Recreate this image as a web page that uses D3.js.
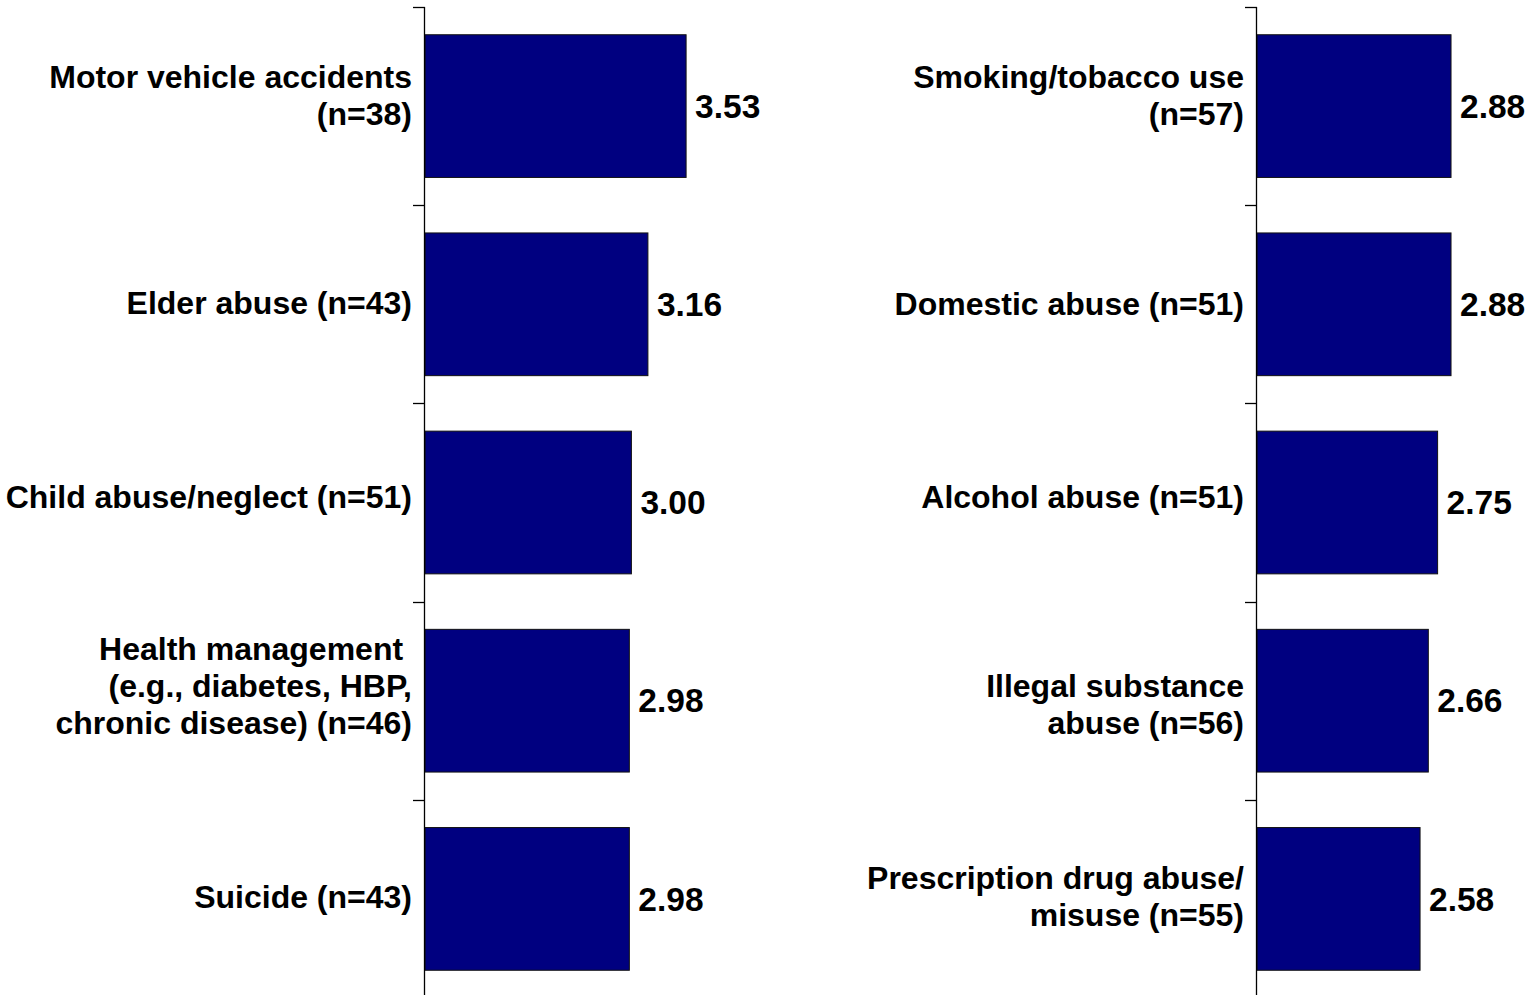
<!DOCTYPE html>
<html>
<head>
<meta charset="utf-8">
<script src="https://cdn.jsdelivr.net/npm/d3@7"></script>
<style>
  html, body { margin: 0; padding: 0; background: #fff; }
  svg { display: block; }
  text { font-family: "Liberation Sans", Arial, sans-serif; font-weight: bold; fill: #000; }
</style>
</head>
<body>
<svg id="chart" width="1537" height="995"></svg>
<script>
// ---- data ----
const leftCategories = [
  "Motor vehicle accidents\n(n=38)",
  "Elder abuse (n=43)",
  "Child abuse/neglect (n=51)",
  "Health management \n(e.g., diabetes, HBP,\nchronic disease) (n=46)",
  "Suicide (n=43)"
];
const leftValues = [3.53, 3.16, 3.00, 2.98, 2.98];

const rightCategories = [
  "Smoking/tobacco use\n(n=57)",
  "Domestic abuse (n=51)",
  "Alcohol abuse (n=51)",
  "Illegal substance\nabuse (n=56)",
  "Prescription drug abuse/\nmisuse (n=55)"
];
const rightValues = [2.88, 2.88, 2.75, 2.66, 2.58];

const xDomain = [1, 5];

// ---- layout ----
const W = 1537, H = 995;
const fontSize = 32;
const valueFontSize = 33.5;
const lineH = 37;
const panels = [
  { cats: leftCategories, vals: leftValues, axisX: 425, shifts: [-11, -2, -6, -15, -2] },
  { cats: rightCategories, vals: rightValues, axisX: 1257, shifts: [-11, -1, -6, 4, -3] }
];
const yTop = 7, yBottom = 998;
const pxPerUnit = 103.2;

const svg = d3.select("#chart");

panels.forEach(p => {
  const g = svg.append("g").attr("transform", `translate(${p.axisX},0)`);
  const y = d3.scaleBand()
    .domain(p.cats.map((c, i) => i))
    .range([yTop, yBottom])
    .paddingInner(0.28)
    .paddingOuter(0.14);
  const x = d3.scaleLinear().domain(xDomain).range([0, pxPerUnit * (xDomain[1] - xDomain[0])]);

  // bars
  g.selectAll("rect.bar")
    .data(p.vals)
    .join("rect")
    .attr("class", "bar")
    .attr("x", 0)
    .attr("y", (d, i) => y(i))
    .attr("width", d => x(d))
    .attr("height", y.bandwidth())
    .attr("fill", "#000080")
    .attr("stroke", "#111")
    .attr("stroke-width", 1);

  // axis line + ticks at band boundaries
  const step = y.step();
  const boundaries = d3.range(p.cats.length + 1).map(i => yTop + i * step);
  g.append("line")
    .attr("x1", -0.5).attr("x2", -0.5)
    .attr("y1", yTop).attr("y2", yBottom)
    .attr("stroke", "#000").attr("stroke-width", 1.3);
  g.selectAll("line.tick")
    .data(boundaries)
    .join("line")
    .attr("class", "tick")
    .attr("x1", -12).attr("x2", 0)
    .attr("y1", d => Math.round(d) + 0.5).attr("y2", d => Math.round(d) + 0.5)
    .attr("stroke", "#000").attr("stroke-width", 1.3);

  // category labels
  p.cats.forEach((c, i) => {
    const lines = c.split("\n");
    const cy = y(i) + y.bandwidth() / 2 + p.shifts[i];
    const t = g.append("text")
      .attr("text-anchor", "end")
      .attr("font-size", fontSize)
      .attr("x", -13)
      .attr("y", cy - (lines.length - 1) * lineH / 2)
      .attr("dy", "0.35em")
      .attr("xml:space", "preserve");
    lines.forEach((ln, k) => {
      t.append("tspan")
        .attr("x", -13)
        .attr("y", cy - (lines.length - 1) * lineH / 2 + k * lineH)
        .attr("dy", "0.35em")
        .text(ln);
    });
  });

  // value labels
  g.selectAll("text.val")
    .data(p.vals)
    .join("text")
    .attr("class", "val")
    .attr("font-size", valueFontSize)
    .attr("x", d => x(d) + 9)
    .attr("y", (d, i) => y(i) + y.bandwidth() / 2)
    .attr("dy", "0.35em")
    .text(d => d.toFixed(2));
});
</script>
</body>
</html>
